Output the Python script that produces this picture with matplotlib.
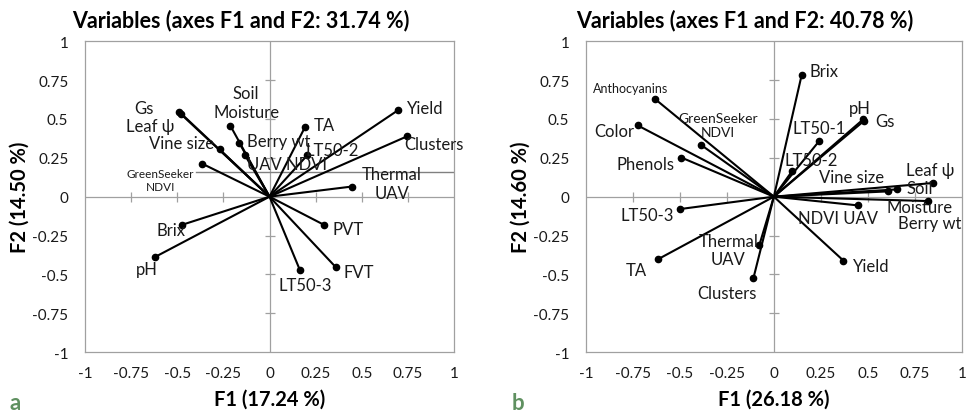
import matplotlib
matplotlib.use("Agg")
import matplotlib.pyplot as plt

plt.rcParams['font.family'] = ['Lato', 'DejaVu Sans']

# panel a
names_a = ["Gs", "Leaf ψ", "Vine size", "GreenSeeker\nNDVI", "Soil\nMoisture", "Berry wt",
           "UAV NDVI", "TA", "LT50-2", "Yield", "Clusters", "Thermal\nUAV", "PVT", "FVT",
           "LT50-3", "Brix", "pH"]
f1_a = [-0.489, -0.480, -0.271, -0.366, -0.212, -0.165, -0.134, 0.192, 0.205, 0.695, 0.747,
        0.445, 0.295, 0.358, 0.165, -0.474, -0.619]
f2_a = [0.546, 0.531, 0.305, 0.213, 0.456, 0.348, 0.269, 0.447, 0.267, 0.555, 0.389,
        0.065, -0.181, -0.452, -0.473, -0.181, -0.387]

# panel b
names_b = ["Brix", "Anthocyanins", "GreenSeeker\nNDVI", "Color", "Phenols", "pH", "Gs",
           "LT50-1", "LT50-2", "Leaf ψ", "Vine size", "Soil\nMoisture", "Berry wt",
           "NDVI UAV", "Yield", "LT50-3", "TA", "Thermal\nUAV", "Clusters"]
f1_b = [0.148, -0.632, -0.390, -0.724, -0.493, 0.477, 0.482, 0.242, 0.098, 0.847, 0.607,
        0.658, 0.819, 0.447, 0.370, -0.502, -0.619, -0.078, -0.109]
f2_b = [0.783, 0.628, 0.335, 0.458, 0.252, 0.499, 0.490, 0.359, 0.166, 0.088, 0.034,
        0.047, -0.028, -0.056, -0.411, -0.080, -0.404, -0.314, -0.525]

titles = ["Variables (axes F1 and F2: 31.74 %)", "Variables (axes F1 and F2: 40.78 %)"]
xlabels = ["F1 (17.24 %)", "F1 (26.18 %)"]
ylabels = ["F2 (14.50 %)", "F2 (14.60 %)"]
ticks = [-1, -0.75, -0.5, -0.25, 0, 0.25, 0.5, 0.75, 1]
tick_labels = ["-1", "-0.75", "-0.5", "-0.25", "0", "0.25", "0.5", "0.75", "1"]

# where the labels sit (text centres)
lab_a = [(-0.682, 0.570), (-0.646, 0.456), (-0.474, 0.344), (-0.59, 0.107), (-0.127, 0.605),
         (0.051, 0.359), (0.096, 0.209), (0.295, 0.46), (0.34, 0.299), (0.843, 0.572),
         (0.892, 0.342), (0.663, 0.085), (0.427, -0.211), (0.481, -0.486), (0.195, -0.570),
         (-0.534, -0.217), (-0.664, -0.462)]
lab_b = [(0.269, 0.809), (-0.76, 0.701), (-0.297, 0.462), (-0.852, 0.424), (-0.683, 0.213),
         (0.456, 0.568), (0.593, 0.488), (0.242, 0.443), (0.201, 0.237), (0.833, 0.17),
         (0.415, 0.127), (0.775, -0.005), (0.829, -0.168), (0.343, -0.135), (0.516, -0.443),
         (-0.674, -0.118), (-0.733, -0.469), (-0.243, -0.342), (-0.249, -0.619)]
small_a = {"GreenSeeker\nNDVI": 8.5}
small_b = {"Anthocyanins": 9, "GreenSeeker\nNDVI": 10}

fig = plt.figure(figsize=(9.66, 4.14), dpi=100)
ax1 = fig.add_axes([0.088, 0.147, 0.382, 0.751])
ax2 = fig.add_axes([0.6066, 0.147, 0.389, 0.751])

grey = '#a0a0a0'
for ax, names, xs, ys, labs, small, t, xl, yl in [
        (ax1, names_a, f1_a, f2_a, lab_a, small_a, titles[0], xlabels[0], ylabels[0]),
        (ax2, names_b, f1_b, f2_b, lab_b, small_b, titles[1], xlabels[1], ylabels[1])]:
    ax.set_xlim(-1, 1)
    ax.set_ylim(-1, 1)
    ax.axhline(0, color=grey, lw=0.9, zorder=1)
    ax.axvline(0, color=grey, lw=0.9, zorder=1)
    inner = [v for v in ticks if v not in (-1, 0, 1)]
    ax.plot(inner, [0] * len(inner), ls='none', marker='|', ms=7, mew=0.9, color=grey, zorder=1)
    ax.plot([0] * len(inner), inner, ls='none', marker='_', ms=7, mew=0.9, color=grey, zorder=1)
    for x, y in zip(xs, ys):
        ax.plot([0, x], [0, y], color='black', lw=1.5, zorder=3)
    ax.plot(xs, ys, 'o', color='black', ms=4.5, zorder=4)
    for n, (lx, ly) in zip(names, labs):
        ax.text(lx, ly, n, ha='center', va='center', fontsize=small.get(n, 12),
                color='#1a1a1a', linespacing=1.2, zorder=5)
    ax.set_xticks(ticks)
    ax.set_xticklabels(tick_labels)
    ax.set_yticks(ticks)
    ax.set_yticklabels(tick_labels)
    ax.tick_params(length=0, labelsize=11, colors='#1a1a1a')
    ax.tick_params(axis='y', pad=12)
    ax.tick_params(axis='x', pad=10)
    for s in ax.spines.values():
        s.set_color(grey)
        s.set_linewidth(0.9)
    ax.text(0.423, 1.035, t, transform=ax.transAxes, ha='center', va='bottom',
            fontsize=15.5, fontweight='bold')
    ax.set_xlabel(xl, fontsize=14.5, fontweight='bold', labelpad=6)
    ax.set_ylabel(yl, fontsize=14.5, fontweight='bold', labelpad=2)

# grey line behind the GreenSeeker label in panel a
ax1.plot([-0.40, 1.0], [0.159, 0.159], color='#808080', lw=1.0, zorder=2)

fig.text(15 / 966, 1 - 404 / 414, "a", fontsize=16, fontweight='bold', color='#5f9060',
         ha='center', va='center')
fig.text(518 / 966, 1 - 404 / 414, "b", fontsize=16, fontweight='bold', color='#5f9060',
         ha='center', va='center')

fig.savefig("out.png", dpi=100)
